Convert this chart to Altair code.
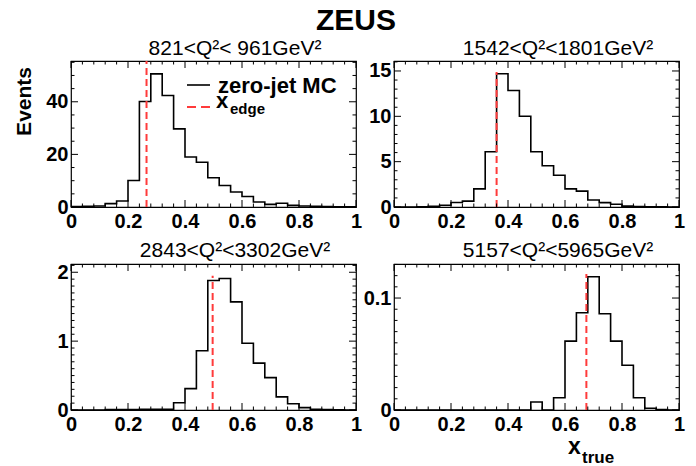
import altair as alt
import pandas as pd

FONT = "Liberation Sans"

# ---------------- data ----------------
bin_left = [0.00, 0.04, 0.08, 0.12, 0.16, 0.20, 0.24, 0.28, 0.32, 0.36,
            0.40, 0.44, 0.48, 0.52, 0.56, 0.60, 0.64, 0.68, 0.72, 0.76,
            0.80, 0.84, 0.88, 0.92, 0.96]
x_end = 1.0

counts_p1 = [0.2, 0.3, 0.4, 1.3, 2.3, 10.1, 40.1, 50.6, 42.4, 29.7,
             19.0, 17.0, 11.1, 8.2, 5.7, 4.0, 1.9, 1.0, 1.4, 0.6,
             0.4, 0.3, 0.2, 0.1, 0.1]
counts_p2 = [0.0, 0.0, 0.02, 0.07, 0.2, 0.5, 0.65, 2.0, 6.1, 14.7,
             12.85, 10.0, 6.1, 4.55, 3.5, 2.0, 1.75, 0.77, 0.48, 0.3,
             0.1, 0.05, 0.02, 0.02, 0.0]
counts_p3 = [0.0, 0.0, 0.0, 0.005, 0.005, 0.005, 0.01, 0.01, 0.01, 0.105,
             0.31, 0.86, 1.88, 1.91, 1.57, 0.97, 0.68, 0.47, 0.19, 0.09,
             0.035, 0.01, 0.005, 0.003, 0.0]
counts_p4 = [0.0, 0.0, 0.0, 0.0, 0.0, 0.0, 0.0, 0.0, 0.0, 0.0,
             0.0, 0.0, 0.0072, 0.0, 0.011, 0.0615, 0.0869, 0.119, 0.086, 0.0615,
             0.04, 0.011, 0.0015, 0.0005, 0.0]

panel_titles = ["821<Q²< 961GeV²", "1542<Q²<1801GeV²",
                "2843<Q²<3302GeV²", "5157<Q²<5965GeV²"]
y_max = [55.5, 16.1, 2.12, 0.1304]
x_edge = [0.265, 0.36, 0.497, 0.675]
x_edge_top = [55.5, 14.9, 1.95, 0.1215]

x_major = [0, 0.2, 0.4, 0.6, 0.8, 1.0]
x_minor = [0.04, 0.08, 0.12, 0.16, 0.24, 0.28, 0.32, 0.36, 0.44, 0.48,
           0.52, 0.56, 0.64, 0.68, 0.72, 0.76, 0.84, 0.88, 0.92, 0.96]
y_major = [[0, 20, 40], [0, 5, 10, 15], [0, 1, 2], [0, 0.1]]
y_minor = [[5, 10, 15, 25, 30, 35, 45, 50, 55],
           [1, 2, 3, 4, 6, 7, 8, 9, 11, 12, 13, 14, 16],
           [0.1, 0.2, 0.3, 0.4, 0.5, 0.6, 0.7, 0.8, 0.9,
            1.1, 1.2, 1.3, 1.4, 1.5, 1.6, 1.7, 1.8, 1.9, 2.1],
           [0.01, 0.02, 0.03, 0.04, 0.05, 0.06, 0.07, 0.08, 0.09,
            0.11, 0.12, 0.13]]
all_counts = [counts_p1, counts_p2, counts_p3, counts_p4]

W, H = 285, 146
MAJ, MIN = 7, 3.5
RED = "#ff3b3b"


def text_layer(txt, x, y, size, weight="bold", align="left", baseline="alphabetic",
               angle=0, color="black"):
    kw = dict(font=FONT, fontSize=size, fontWeight=weight, align=align,
              baseline=baseline, color=color)
    if angle:
        kw["angle"] = angle
    return alt.Chart(pd.DataFrame({"t": [txt]})).mark_text(**kw).encode(
        text="t:N", x=alt.value(x), y=alt.value(y))


def panel(i):
    xs = alt.Scale(domain=[0, 1], nice=False, zero=False)
    ys = alt.Scale(domain=[0, y_max[i]], nice=False, zero=False)
    common_axis = dict(ticks=False, tickSize=0, domain=False, grid=False,
                       labelFont=FONT, labelFontWeight="bold", labelFontSize=20,
                       labelColor="black", labelOverlap=False, labelFlush=False,
                       labelBound=False, title=None, format="~f")
    xaxis = alt.Axis(values=x_major, labelPadding=4, **common_axis)
    yaxis = alt.Axis(values=y_major[i], labelPadding=3, **common_axis)

    vals = all_counts[i]
    hist_df = pd.DataFrame({"x": bin_left + [x_end], "y": vals + [vals[-1]]})
    hist = alt.Chart(hist_df).mark_line(
        interpolate="step-after", color="black", strokeWidth=1.6
    ).encode(x=alt.X("x:Q", scale=xs, axis=xaxis),
             y=alt.Y("y:Q", scale=ys, axis=yaxis))

    edge_df = pd.DataFrame({"x": [x_edge[i]], "y0": [0.0], "y1": [x_edge_top[i]]})
    edge = alt.Chart(edge_df).mark_rule(
        color=RED, strokeWidth=2, strokeDash=[7, 4]
    ).encode(x=alt.X("x:Q", scale=xs), y=alt.Y("y0:Q", scale=ys), y2="y1:Q")

    # inward ticks on all four sides
    xt_maj = pd.DataFrame({"v": x_major})
    xt_min = pd.DataFrame({"v": x_minor})
    yt_maj = pd.DataFrame({"v": y_major[i]})
    yt_min = pd.DataFrame({"v": y_minor[i]})
    tick = dict(color="black", strokeWidth=1)
    ticks = []
    for df, L in ((xt_maj, MAJ), (xt_min, MIN)):
        ticks.append(alt.Chart(df).mark_rule(**tick).encode(
            x=alt.X("v:Q", scale=xs), y=alt.value(H), y2=alt.value(H - L)))
        ticks.append(alt.Chart(df).mark_rule(**tick).encode(
            x=alt.X("v:Q", scale=xs), y=alt.value(0), y2=alt.value(L)))
    for df, L in ((yt_maj, MAJ), (yt_min, MIN)):
        ticks.append(alt.Chart(df).mark_rule(**tick).encode(
            y=alt.Y("v:Q", scale=ys), x=alt.value(0), x2=alt.value(L)))
        ticks.append(alt.Chart(df).mark_rule(**tick).encode(
            y=alt.Y("v:Q", scale=ys), x=alt.value(W), x2=alt.value(W - L)))

    layers = [hist, edge] + ticks
    layers.append(text_layer(panel_titles[i], 164, -6 if i < 2 else -7, 21,
                             weight="normal", align="center"))

    if i == 0:
        # page anchor (white, defines top-left bound)
        layers.append(alt.Chart(pd.DataFrame({"a": [0]})).mark_rule(
            color="white", strokeWidth=1).encode(
            x=alt.value(-69), x2=alt.value(-68), y=alt.value(-59), y2=alt.value(-59)))
        layers.append(text_layer("ZEUS", 285, -31, 30, align="center"))
        layers.append(text_layer("Events", -46, 6, 21, align="right",
                                 baseline="middle", angle=270))
        # legend
        layers.append(alt.Chart(pd.DataFrame({"a": [0]})).mark_rule(
            color="black", strokeWidth=1.6).encode(
            x=alt.value(116), x2=alt.value(139), y=alt.value(24)))
        layers.append(text_layer("zero-jet MC", 147, 32, 22))
        layers.append(alt.Chart(pd.DataFrame({"a": [0]})).mark_rule(
            color=RED, strokeWidth=2, strokeDash=[9, 5]).encode(
            x=alt.value(116), x2=alt.value(139), y=alt.value(46)))
        layers.append(text_layer("x", 145, 47, 22))
        layers.append(text_layer("edge", 159, 53, 15))
    if i == 3:
        layers.append(text_layer("x", 174, 190, 23))
        layers.append(text_layer("true", 188, 199, 17))

    return alt.layer(*layers).properties(width=W, height=H)


chart = alt.concat(
    panel(0), panel(1), panel(2), panel(3),
    columns=2, spacing={"row": 57, "column": 38}, bounds="flush"
).properties(
    padding=0, background="white"
).configure_view(stroke="black", strokeWidth=1.2)

chart.save("out.html", embed_options={"renderer": "svg", "actions": False})
